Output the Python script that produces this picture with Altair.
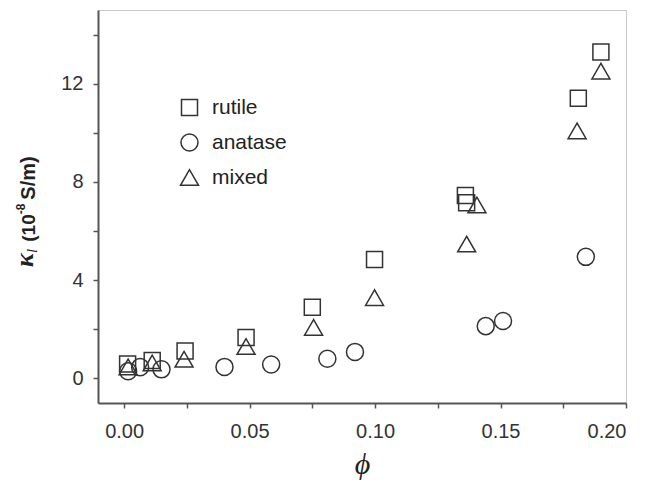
import altair as alt
import pandas as pd

# Ionic conductivity kappa_l (10^-8 S/m) versus volume fraction phi for three TiO2 phases
rutile_phi = [0.0014, 0.0112, 0.0243, 0.0486, 0.0750, 0.0998, 0.1360, 0.1365, 0.1810, 0.1900]
rutile_k = [0.59, 0.73, 1.12, 1.67, 2.90, 4.84, 7.45, 7.15, 11.41, 13.29]

anatase_phi = [0.0016, 0.0064, 0.0149, 0.0400, 0.0586, 0.0810, 0.0920, 0.1441, 0.1510, 0.1840]
anatase_k = [0.29, 0.46, 0.37, 0.47, 0.57, 0.80, 1.08, 2.13, 2.34, 4.95]

mixed_phi = [0.0016, 0.0112, 0.0239, 0.0486, 0.0755, 0.0998, 0.1365, 0.1406, 0.1805, 0.1900]
mixed_k = [0.47, 0.63, 0.78, 1.30, 2.08, 3.29, 5.47, 7.06, 10.08, 12.51]

phases = ["rutile", "anatase", "mixed"]
shapes = ["square", "circle", "triangle-up"]
sizes = [256, 324, 470]

x_ticks = [0.0, 0.025, 0.05, 0.075, 0.1, 0.125, 0.15, 0.175, 0.2]
y_ticks = [0, 2, 4, 6, 8, 10, 12, 14]

rows = []
for name, xs, ys in [("rutile", rutile_phi, rutile_k),
                     ("anatase", anatase_phi, anatase_k),
                     ("mixed", mixed_phi, mixed_k)]:
    for p, k in zip(xs, ys):
        rows.append({"phi": p, "kappa": k, "phase": name})
df = pd.DataFrame(rows)

ink = "#333333"
axis_color = "#555555"
text_color = "#222222"

legend = alt.Legend(
    title=None, orient="none", legendX=81, legendY=87,
    labelFont="Liberation Sans", labelFontSize=21, labelColor=text_color,
    labelOffset=12, rowPadding=11, padding=0,
    symbolStrokeColor=ink, symbolStrokeWidth=1.5, symbolFillColor="transparent",
)

points = alt.Chart(df).mark_point(filled=False, strokeWidth=1.5, color=ink, opacity=1).encode(
    x=alt.X("phi:Q", scale=alt.Scale(domain=[-0.0104, 0.2], nice=False, zero=False),
            axis=alt.Axis(values=x_ticks, title="ϕ",
                          labelExpr="(round(datum.value*1000) % 50 == 0) ? format(datum.value, '.2f') : ''")),
    y=alt.Y("kappa:Q", scale=alt.Scale(domain=[-1, 15], nice=False, zero=False),
            axis=alt.Axis(values=y_ticks, title=None,
                          labelExpr="(datum.value % 4 == 0) ? datum.label : ''")),
    shape=alt.Shape("phase:N", scale=alt.Scale(domain=phases, range=shapes), legend=legend),
    size=alt.Size("phase:N", scale=alt.Scale(domain=phases, range=sizes), legend=legend),
)

one = pd.DataFrame({"k": [0]})


def vtext(txt, x, y, size, font="Liberation Sans", weight="bold", style="normal"):
    # rotated piece of the y-axis title, placed relative to the plot area
    return alt.Chart(one).mark_text(
        text=txt, angle=270, font=font, fontWeight=weight, fontStyle=style,
        fontSize=size, color=text_color, align="center", baseline="middle",
    ).encode(x=alt.value(x), y=alt.value(y))


title_parts = [
    vtext("κ", -73, 250, 26, font="Liberation Serif", style="italic"),
    vtext("l", -66, 241, 15, font="Liberation Serif", weight="normal", style="italic"),
    vtext("(10", -69, 218, 19),
    vtext("-8", -77, 199, 12),
    vtext("S/m)", -69, 168, 20),
]

chart = alt.layer(points, *title_parts).properties(
    width=528, height=393,
    padding={"left": 98, "top": 10, "right": 23, "bottom": 81},
    autosize="none",
).configure_view(
    stroke="#c8c8c8", strokeWidth=1
).configure_axis(
    domainColor=axis_color, domainWidth=2, tickColor=axis_color, tickWidth=1.5,
    tickSize=5, grid=False, labelFont="Liberation Sans", labelFontSize=20,
    labelColor="#333333", labelPadding=10,
).configure_axisX(
    labelPadding=13,
    titleFont="Liberation Serif", titleFontStyle="italic", titleFontSize=30,
    titleFontWeight="normal", titleColor=text_color, titlePadding=8,
)

chart.save("out.html", embed_options={"renderer": "svg", "actions": False})
